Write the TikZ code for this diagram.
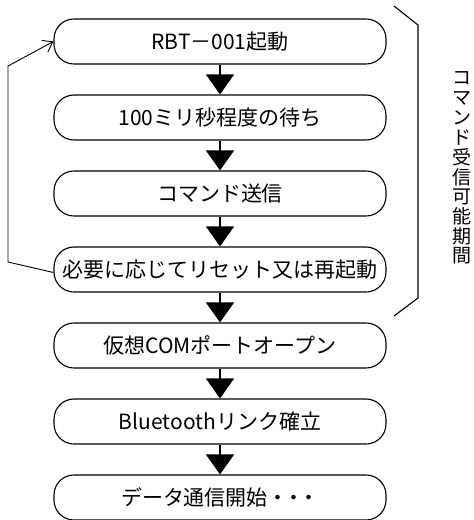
\documentclass[tikz,border=0pt]{standalone}
\usepackage{fontspec}
\setmainfont{Noto Sans CJK JP}
\usetikzlibrary{arrows.meta}
\tikzset{
  stepbox/.style={draw,line width=1.1pt,rounded corners=20pt,minimum width=332pt,minimum height=45pt,
    inner sep=0pt,font=\fontsize{21}{24}\selectfont},
  flowarrow/.style={line width=1.3pt,-{Triangle[width=28pt,length=20pt]}},
  looparrow/.style={line width=.9pt,-{Straight Barb[length=9pt,width=13pt]}}
}
\newcommand\tdots{・\kern-6pt・\kern-6pt・}
\begin{document}
\begin{tikzpicture}[x=1pt,y=-1pt]
\useasboundingbox (0,0) rectangle (474,520);
\foreach \n/\yy/\txt in {b1/41.5/RBT－001起動,b2/117.5/100ミリ秒程度の待ち,b3/193.5/コマンド送信,
  b4/269.5/必要に応じてリセット又は再起動,b5/345.5/仮想COMポートオープン,
  b6/421.5/Bluetoothリンク確立,b7/497.5/データ通信開始\tdots}
  {\node[stepbox] (\n) at (220,\yy) {\txt};}
\foreach \a/\b in {b1/b2,b2/b3,b3/b4,b4/b5,b5/b6,b6/b7}{\draw[flowarrow] (\a)--(\b);}
% loop back to the start
\coordinate (lp1) at (8,262); \coordinate (lp2) at (8,66);
\draw[looparrow] ([yshift=-3pt]b4.west)--(lp1)--(lp2)--(b1.west);
% bracket of the command window
\coordinate (br1) at (394,6); \coordinate (br2) at (418,25);
\coordinate (br3) at (418,298); \coordinate (br4) at (394,316);
\draw[line width=1.1pt] (br1)--(br2)--(br3)--(br4);
\foreach \c [count=\i from 0] in {コ,マ,ン,ド,受,信,可,能,期,間}
  {\node[inner sep=0pt,font=\fontsize{19}{19}\selectfont] (lbl\i) at (462,78.5+19.7*\i) {\c};}
\end{tikzpicture}
\end{document}
